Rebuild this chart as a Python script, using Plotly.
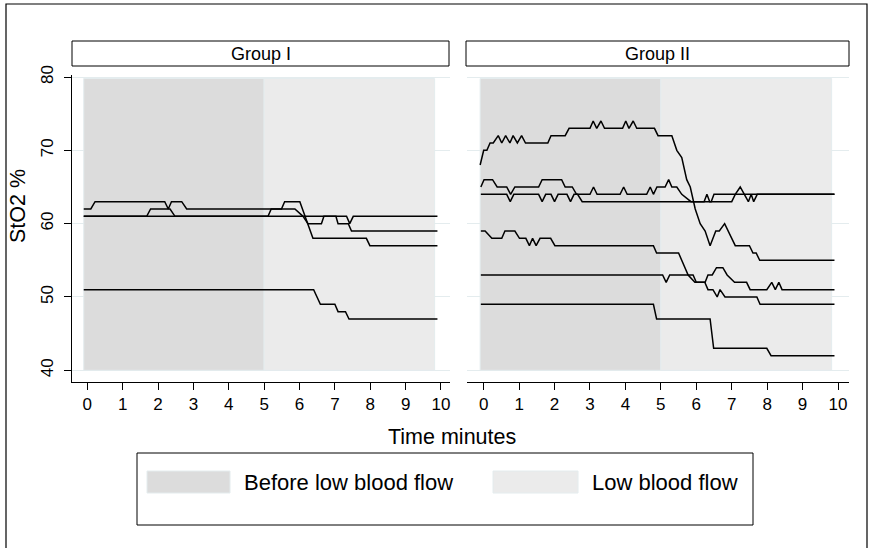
import plotly.graph_objects as go

# ---------------- data ----------------
ticks_x = [0, 1, 2, 3, 4, 5, 6, 7, 8, 9, 10]
ticks_y = [40, 50, 60, 70, 80]
panel_titles = ["Group I", "Group II"]
legend_labels = ["Before low blood flow", "Low blood flow"]
phase_before = [-0.1, 5.0]
phase_low = [5.0, 9.82]

# Group I series (time in minutes, StO2 %)
g1_a_t = [-0.1, 0.1, 0.22, 2.19, 2.29, 2.38, 2.67, 2.81, 5.49, 5.58, 6.01, 6.38, 7.89, 7.99, 9.9]
g1_a_v = [62, 62, 63, 63, 62, 63, 63, 62, 62, 63, 63, 58, 58, 57, 57]
g1_b_t = [-0.1, 1.68, 1.79, 2.34, 2.48, 7.33, 7.42, 7.52, 9.9]
g1_b_v = [61, 61, 62, 62, 61, 61, 60, 61, 61]
g1_c_t = [-0.1, 5.11, 5.2, 5.87, 6.1, 6.24, 6.62, 6.69, 7.03, 7.09, 7.38, 7.47, 9.9]
g1_c_v = [61, 61, 62, 62, 61, 60, 60, 61, 61, 60, 60, 59, 59]
g1_d_t = [-0.1, 6.4, 6.59, 7.0, 7.09, 7.3, 7.4, 9.9]
g1_d_v = [51, 51, 49, 49, 48, 48, 47, 47]

# Group II series
g2_a_t = [-0.1, 0.0, 0.09, 0.18, 0.27, 0.41, 0.51, 0.62, 0.74, 0.83, 0.95, 1.07, 1.18, 1.81, 1.9, 2.30,
          2.41, 3.0, 3.09, 3.19, 3.31, 3.41, 3.92, 4.01, 4.1, 4.22, 4.32, 4.82, 4.92, 5.31, 5.45, 5.59,
          5.73, 5.83, 5.97, 6.11, 6.25, 6.39, 6.55, 6.65, 6.8, 6.95, 7.1, 7.5, 7.6, 7.69, 7.79, 9.9]
g2_a_v = [68, 70, 70, 71, 71, 72, 71, 72, 71, 72, 71, 72, 71, 71, 72, 72,
          73, 73, 74, 73, 74, 73, 73, 74, 73, 74, 73, 73, 72, 72, 70, 69,
          66, 65, 62, 60, 59, 57, 59, 59, 60, 58.5, 57, 57, 56, 56, 55, 55]
g2_b_t = [-0.08, 0.01, 0.25, 0.38, 0.65, 0.76, 0.88, 1.55, 1.65, 2.2, 2.3, 2.5, 2.62, 3.0, 3.1, 3.2,
          3.85, 3.95, 4.05, 4.6, 4.7, 4.79, 4.89, 5.12, 5.22, 5.31, 5.45, 5.59, 5.85, 6.42, 6.5, 9.9]
g2_b_v = [65, 66, 66, 65, 65, 64, 65, 65, 66, 66, 65, 65, 64, 64, 65, 64,
          64, 65, 64, 64, 65, 64, 65, 65, 66, 65, 65, 64, 63, 63, 64, 64]
g2_c_t = [-0.08, 0.65, 0.75, 0.85, 1.55, 1.65, 1.75, 1.9, 2.0, 2.1, 2.35, 2.45, 2.55, 2.65, 2.78,
          6.22, 6.3, 6.38, 7.0, 7.1, 7.24, 7.35, 7.47, 7.55, 7.62, 7.72, 9.9]
g2_c_v = [64, 64, 63, 64, 64, 63, 64, 64, 63, 64, 64, 63, 64, 64, 63,
          63, 64, 63, 63, 64, 65, 64, 63, 64, 63, 64, 64]
g2_d_t = [-0.08, 0.04, 0.23, 0.51, 0.60, 0.88, 1.01, 1.19, 1.29, 1.38, 1.48, 1.59, 1.89, 2.01,
          4.79, 4.88, 5.5, 5.77, 5.96, 6.24, 6.33, 6.47, 6.59, 6.67, 6.81, 7.71, 7.8, 9.9]
g2_d_v = [59, 59, 58, 58, 59, 59, 58, 58, 57, 58, 57, 58, 58, 57,
          57, 56, 56, 53, 52, 52, 51, 51, 50, 51, 50, 50, 49, 49]
g2_e_t = [-0.08, 5.05, 5.15, 5.25, 5.91, 6.0, 6.25, 6.33, 6.45, 6.57, 6.75, 6.87, 7.08, 7.42, 7.52,
          7.99, 8.13, 8.23, 8.33, 8.42, 9.9]
g2_e_v = [53, 53, 52, 53, 53, 52, 52, 53, 53, 54, 54, 53, 52, 52, 51,
          51, 52, 51, 52, 51, 51]
g2_f_t = [-0.08, 4.79, 4.88, 6.39, 6.49, 7.99, 8.11, 9.9]
g2_f_v = [49, 49, 47, 47, 43, 43, 42, 42]

group1 = [(g1_a_t, g1_a_v), (g1_b_t, g1_b_v), (g1_c_t, g1_c_v), (g1_d_t, g1_d_v)]
group2 = [(g2_a_t, g2_a_v), (g2_b_t, g2_b_v), (g2_c_t, g2_c_v), (g2_d_t, g2_d_v),
          (g2_e_t, g2_e_v), (g2_f_t, g2_f_v)]

# ---------------- styling ----------------
W, H = 871, 548
FONT = "Liberation Sans, Arial, Helvetica, sans-serif"
DARK = "#dcdcdc"
LIGHT = "#ebebeb"
GRID = "#e4ecee"


def px(p):
    return p / W


def py(p):
    return 1 - p / H


fig = go.Figure()
for t, v in group1:
    fig.add_trace(go.Scatter(x=t, y=v, mode="lines", xaxis="x", yaxis="y",
                             line=dict(color="black", width=1.5), showlegend=False,
                             hoverinfo="skip"))
for t, v in group2:
    fig.add_trace(go.Scatter(x=t, y=v, mode="lines", xaxis="x2", yaxis="y2",
                             line=dict(color="black", width=1.5), showlegend=False,
                             hoverinfo="skip"))

shapes = []
for xr, yr in (("x", "y"), ("x2", "y2")):
    shapes.append(dict(type="rect", xref=xr, yref=yr, x0=phase_before[0], x1=phase_before[1],
                       y0=40, y1=79.8, fillcolor=DARK, line=dict(color=GRID, width=1),
                       layer="between"))
    shapes.append(dict(type="rect", xref=xr, yref=yr, x0=phase_low[0], x1=phase_low[1],
                       y0=40, y1=79.8, fillcolor=LIGHT, line=dict(color=GRID, width=1),
                       layer="between"))

# panel headers
headers = [(72, 449), (466, 849)]
annotations = []
for (a, b), title in zip(headers, panel_titles):
    shapes.append(dict(type="rect", xref="paper", yref="paper", x0=px(a), x1=px(b),
                       y0=py(66), y1=py(41), fillcolor="white",
                       line=dict(color="black", width=1)))
    annotations.append(dict(x=px((a + b) / 2), y=py(53.5), xref="paper", yref="paper",
                            text=title, showarrow=False, xanchor="center", yanchor="middle",
                            font=dict(family=FONT, size=18, color="black")))

# outer border
shapes.append(dict(type="rect", xref="paper", yref="paper", x0=px(6), x1=px(867),
                   y0=py(560), y1=py(4), line=dict(color="black", width=1.2),
                   fillcolor="rgba(0,0,0,0)"))

# legend box
shapes.append(dict(type="rect", xref="paper", yref="paper", x0=px(137), x1=px(753),
                   y0=py(525), y1=py(453), line=dict(color="black", width=1),
                   fillcolor="white"))
swatches = [(147, 230, DARK, 242), (493, 578, LIGHT, 590)]
for (a, b, col, tx), lab in zip(swatches, legend_labels):
    shapes.append(dict(type="rect", xref="paper", yref="paper", x0=px(a), x1=px(b),
                       y0=py(493), y1=py(471), fillcolor=col, line=dict(color=GRID, width=1)))
    annotations.append(dict(x=px(tx), y=py(482), xref="paper", yref="paper", text=lab,
                            showarrow=False, xanchor="left", yanchor="middle",
                            font=dict(family=FONT, size=22, color="black")))

annotations.append(dict(x=px(452), y=py(437), xref="paper", yref="paper", text="Time minutes",
                        showarrow=False, xanchor="center", yanchor="middle",
                        font=dict(family=FONT, size=21.5, color="black")))
annotations.append(dict(x=px(18), y=py(206), xref="paper", yref="paper", text="StO2 %",
                        showarrow=False, xanchor="center", yanchor="middle", textangle=-90,
                        font=dict(family=FONT, size=21.5, color="black")))

xcommon = dict(tickvals=ticks_x, ticktext=[str(v) for v in ticks_x], showline=True,
               linecolor="black", linewidth=1, ticks="outside", ticklen=7, tickcolor="black",
               tickwidth=1, showgrid=False, zeroline=False,
               tickfont=dict(family=FONT, size=17, color="black"))
ycommon = dict(range=[38.404, 80.273], tickvals=ticks_y, showgrid=True, gridcolor=GRID,
               gridwidth=1, zeroline=False)

fig.update_layout(
    width=W, height=H, margin=dict(l=0, r=0, t=0, b=0, autoexpand=False),
    paper_bgcolor="white", plot_bgcolor="white",
    xaxis=dict(domain=[px(72), px(450)], range=[-0.432, 10.255], anchor="y", **xcommon),
    xaxis2=dict(domain=[px(467), px(849)], range=[-0.471, 10.31], anchor="y2", **xcommon),
    yaxis=dict(domain=[py(382), py(75)], anchor="x", showline=True, linecolor="black",
               linewidth=1, ticks="outside", ticklen=7, tickcolor="black", tickangle=-90,
               ticklabelstandoff=4,
               tickfont=dict(family=FONT, size=17, color="black"), **ycommon),
    yaxis2=dict(domain=[py(382), py(75)], anchor="x2", showline=False, ticks="",
                showticklabels=False, **ycommon),
    shapes=shapes, annotations=annotations, showlegend=False,
)

fig.write_html("out.html", config={"displayModeBar": False},
               post_script="document.body.style.margin='0px';"
                           "document.body.style.overflow='hidden';")
